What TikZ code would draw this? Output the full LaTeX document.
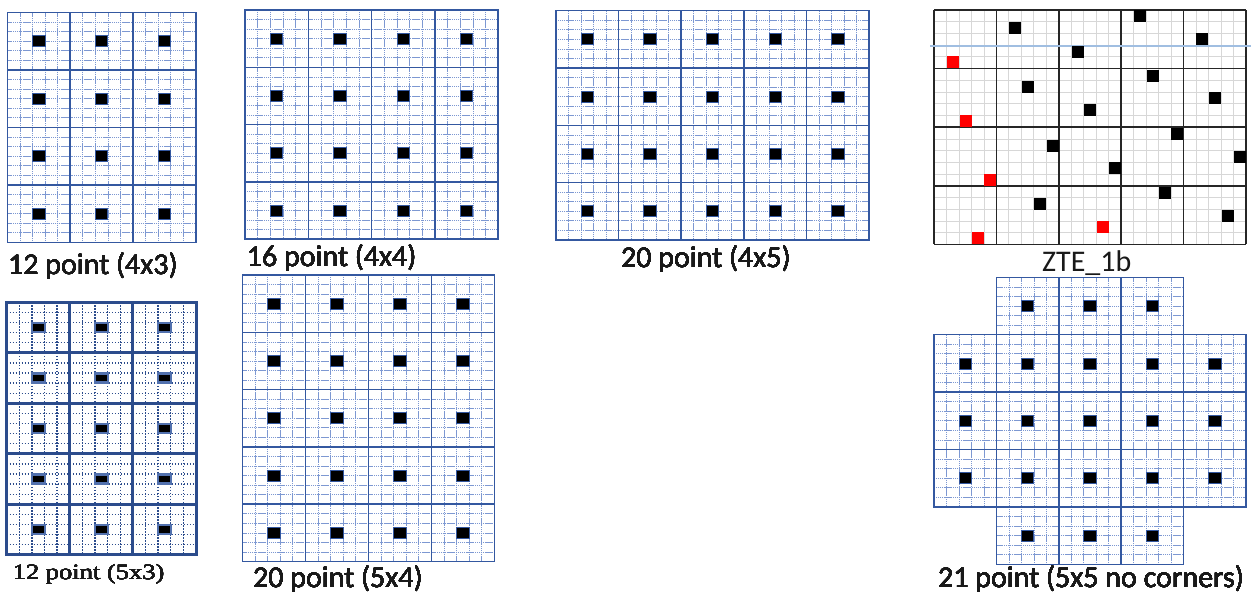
\documentclass[tikz,border=0pt]{standalone}
\usepackage{graphicx}
\usepackage{fontspec}
\setmainfont{Carlito}
\newfontfamily\serifcap{Liberation Serif}
\usepackage{tikz}
\definecolor{gridBlue}{RGB}{52,88,160}
\definecolor{fineBlue}{RGB}{125,152,210}
\definecolor{denseBlue}{RGB}{44,76,140}
\definecolor{zteGray}{RGB}{215,215,215}
\definecolor{zteBlue}{RGB}{160,190,225}
\definecolor{zteRed}{RGB}{255,0,0}

% one sample cell: x, y (top left), width, height
\newcommand{\samplecell}[4]{%
  \foreach \k in {1,...,4}
    \draw[fineline] ({#1+\k*#3/5},{#2}) -- ++(0,#4);
  \foreach \k in {1,...,5}
    \draw[fineline] ({#1},{#2+\k*#4/6}) -- ++(#3,0);
  \draw[cellline] ({#1},{#2}) rectangle ++(#3,#4);
  \draw[sample] ({#1+#3/2-6.2},{#2+#4/2-5.5}) rectangle ++(12.4,11);
}
% same cell, dense dotted look (5x3 panel)
\newcommand{\densecell}[4]{%
  \foreach \k in {1,...,4} {
    \draw[denseline] ({#1+\k*#3/5},{#2}) -- ++(0,#4);
    \draw[denseline] ({#1},{#2+\k*#4/5}) -- ++(#3,0);
  }
  \draw[denseframe] ({#1},{#2}) rectangle ++(#3,#4);
  \draw[densesample] ({#1+#3/2-6.5},{#2+#4/2-4.5}) rectangle ++(13,9);
}

\begin{document}
\begin{tikzpicture}[x=1pt, y=-1pt,
    fineline/.style={fineBlue, line width=0.7pt, dash pattern=on 1.3pt off 0.6pt},
    cellline/.style={gridBlue, line width=1.5pt},
    sample/.style={draw=gridBlue, fill=black, line width=0.8pt},
    denseline/.style={denseBlue, line width=1.4pt, dash pattern=on 1.5pt off 1.5pt},
    denseframe/.style={denseBlue, line width=3pt},
    densesample/.style={draw=gridBlue!85, fill=black, line width=2.5pt},
    caption/.style={inner sep=0pt, font=\fontsize{30}{36}\selectfont, text=black!90},
    ztegrid/.style={zteGray, line width=0.8pt},
    zteframe/.style={black!85, line width=1.5pt}]
  \useasboundingbox (0,0) rectangle (1252,595);

  % 12 point (4x3)
  \foreach \c in {0,1,2}
    \foreach \r in {0,...,3}
      \samplecell{7.3+\c*62.9}{12.3+\r*57.5}{62.9}{57.5}
  \node[caption, anchor=base west] (capA) at (8,274) {12 point (4x3)};

  % 12 point (5x3)
  \foreach \c in {0,1,2}
    \foreach \r in {0,...,4}
      \densecell{6.7+\c*63.1}{302.3+\r*50.5}{63.1}{50.5}
  \node[inner sep=0pt, anchor=base west, text=black!90,
    font=\serifcap\fontsize{21.7}{26}\selectfont] (capB) at (12.7,579)
    {\scalebox{1.22}[1]{12 point (5x3)}};

  % 16 point (4x4)
  \foreach \c in {0,...,3}
    \foreach \r in {0,...,3}
      \samplecell{245+\c*63.3}{10+\r*57.3}{63.3}{57.3}
  \node[caption, anchor=base west] (capC) at (246.7,266) {16 point (4x4)};

  % 20 point (4x5)
  \foreach \c in {0,...,4}
    \foreach \r in {0,...,3}
      \samplecell{556+\c*62.6}{10.7+\r*57.3}{62.6}{57.3}
  \node[caption, anchor=base] (capD) at (706,267) {20 point (4x5)};

  % 20 point (5x4)
  \foreach \c in {0,...,3}
    \foreach \r in {0,...,4}
      \samplecell{242.3+\c*63}{275+\r*57.3}{63}{57.3}
  \node[caption, anchor=base west] (capE) at (253,587.5) {20 point (5x4)};

  % 21 point, corners left out
  \foreach \r/\cols in {0/{1,2,3}, 1/{0,...,4}, 2/{0,...,4}, 3/{0,...,4}, 4/{1,2,3}}
    \foreach \c in \cols
      \samplecell{934+\c*62.4}{277.3+\r*57.4}{62.4}{57.4}
  \node[caption, anchor=base west] (capG) at (938,587.5) {21 point (5x5 no corners)};

  % ZTE_1b
  \foreach \k in {0,...,25}
    \draw[ztegrid] ({934+\k*62.4/5},10) -- ++(0,234.4);
  \foreach \k in {0,...,20}
    \draw[ztegrid] (934,{10+\k*58.6/5}) -- ++(312,0);
  \foreach \k in {0,...,5}
    \draw[zteframe] ({934+\k*62.4},10) -- ++(0,234.4);
  \foreach \k in {0,...,4}
    \draw[zteframe] (934,{10+\k*58.6}) -- ++(312,0);
  \draw[zteBlue, line width=2pt] (930,45.5) -- (1251,45.5);
  \foreach \x/\y in {1015/28.3, 1140/16, 1202.3/39.3, 1077.7/51.7, 1027.7/87.3,
      1152.7/75.7, 1215/98.3, 1090/110, 1052.7/145.7, 1177.3/134, 1240/156.7,
      1115/168.3, 1040/204, 1165/192.7, 1227.7/216}
    \fill[black] (\x-6,\y-6) rectangle ++(12,12);
  \foreach \x/\y in {953.3/62.3, 966/121, 990/180, 977.7/237.7, 1102.7/227.3}
    \fill[zteRed] (\x-6,\y-6) rectangle ++(12,12);
  \node[caption, anchor=base] (capZ) at (1086.7,271) {ZTE\_1b};
\end{tikzpicture}
\end{document}
